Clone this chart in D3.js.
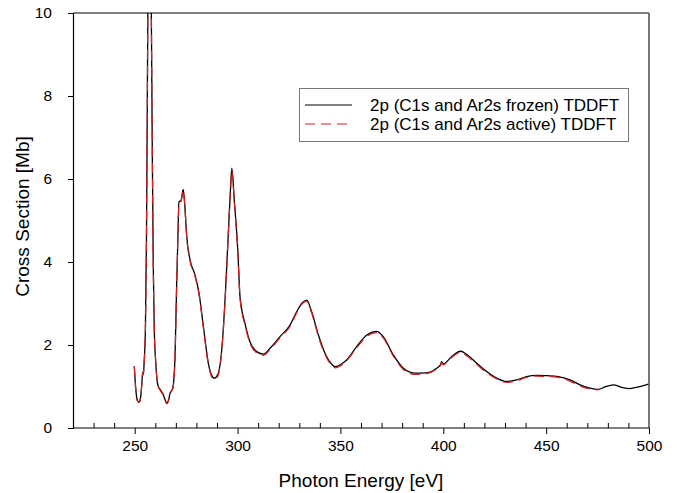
<!DOCTYPE html>
<html>
<head>
<meta charset="utf-8">
<script src="https://cdn.jsdelivr.net/npm/d3@7/dist/d3.min.js"></script>
<style>
  html, body { margin: 0; padding: 0; background: #fff; }
  svg { display: block; font-family: "Liberation Sans", Arial, sans-serif; }
</style>
</head>
<body>
<svg id="chart" width="677" height="493"></svg>
<script>
// ---- data ----
const seriesNames = ["2p (C1s and Ar2s frozen) TDDFT", "2p (C1s and Ar2s active) TDDFT"];
const xTickValues = [250, 300, 350, 400, 450, 500];
const yTickValues = [0, 2, 4, 6, 8, 10];

const frozenE = [249.8,250.5,251.2,252.1,252.9,253.5,253.9,254.2,254.6,255.2,255.7,256.2,256.7,257.1,257.5,258.0,258.5,259.0,259.5,260.2,261.0,261.5,262.5,263.9,265.0,265.6,266.3,267.2,268.5,269.2,269.6,270.4,271.0,271.5,272.5,273.6,274.3,275.3,276.9,279.3,281.3,283.4,285.8,287.3,288.7,290.3,292.3,293.9,295.5,296.5,297.2,298.4,300.1,301.2,303.6,306.0,309.3,312.5,315.8,320.6,325.5,328.7,331.5,333.6,336.0,339.3,342.5,345.5,347.4,351.0,353.0,357.9,362.8,367.6,370.8,375.7,380.6,386.3,392.0,396.8,398.6,399.2,400.0,400.8,404.1,408.5,411.4,416.3,421.1,426.0,430.8,435.7,440.5,445.4,450.3,455.9,461.6,466.5,471.3,475.4,478.6,482.7,486.7,490.8,494.8,499.7];
const frozenV = [1.49,0.95,0.68,0.62,0.75,1.10,1.35,1.28,1.60,2.40,4.50,8.50,12.5,14.0,13.0,10.5,7.0,4.0,2.4,1.6,1.1,1.0,0.92,0.80,0.65,0.60,0.65,0.84,0.96,1.30,1.72,3.49,4.60,5.45,5.48,5.75,5.40,4.61,4.05,3.69,3.24,2.44,1.56,1.28,1.20,1.28,1.88,3.08,4.69,5.70,6.26,5.49,4.29,3.16,2.52,2.08,1.84,1.78,1.92,2.20,2.48,2.80,3.02,3.08,2.80,2.24,1.80,1.55,1.48,1.56,1.64,1.96,2.24,2.33,2.20,1.76,1.44,1.32,1.33,1.44,1.52,1.60,1.54,1.56,1.72,1.85,1.77,1.56,1.36,1.20,1.12,1.16,1.24,1.27,1.26,1.24,1.16,1.04,0.96,0.93,0.99,1.04,0.98,0.95,0.99,1.06];

const activeE = [249.8,250.5,251.2,252.1,252.9,253.5,253.9,254.2,254.6,255.2,255.7,256.2,256.7,257.1,257.5,258.0,258.5,259.0,259.5,260.2,261.0,261.5,262.5,263.9,265.0,265.6,266.3,267.2,268.5,269.2,269.6,270.4,271.0,271.5,272.5,273.6,274.3,275.3,276.9,279.3,281.3,283.4,285.8,287.3,288.7,290.3,292.3,293.9,295.5,296.5,297.2,298.4,300.1,301.2,303.6,306.0,309.3,312.5,315.8,320.6,325.5,328.7,331.5,333.6,336.0,339.3,342.5,345.5,347.4,351.0,353.0,357.9,362.8,367.6,370.8,375.7,380.6,386.3,392.0,396.8,398.6,399.2,400.0,400.8,404.1,408.5,411.4,416.3,421.1,426.0,430.8,435.7,440.5,445.4,450.3,455.9,461.6,466.5,471.3,475.4];
const activeV = [1.49,0.93,0.66,0.61,0.74,1.08,1.33,1.30,1.58,2.38,4.50,8.50,12.5,14.0,13.0,10.5,7.0,4.0,2.4,1.6,1.1,0.99,0.90,0.78,0.63,0.58,0.63,0.82,0.95,1.28,1.70,3.45,4.58,5.42,5.46,5.72,5.38,4.58,4.02,3.66,3.20,2.40,1.53,1.24,1.16,1.24,1.85,3.05,4.66,5.68,6.20,5.46,4.26,3.12,2.48,2.05,1.81,1.75,1.89,2.17,2.45,2.77,3.00,3.05,2.77,2.20,1.77,1.52,1.45,1.53,1.62,1.93,2.21,2.30,2.17,1.73,1.41,1.29,1.31,1.42,1.50,1.57,1.52,1.54,1.70,1.82,1.74,1.53,1.33,1.18,1.10,1.14,1.22,1.25,1.24,1.22,1.13,1.01,0.94,0.92];

// ---- layout ----
const W = 677, H = 493;
const margin = { top: 13, right: 28, bottom: 65, left: 73 };
const iw = W - margin.left - margin.right;
const ih = H - margin.top - margin.bottom;

const svg = d3.select("#chart");
const g = svg.append("g").attr("transform", `translate(${margin.left},${margin.top})`);

const x = d3.scaleLinear().domain([220, 500]).range([0, iw]);
const y = d3.scaleLinear().domain([0, 10]).range([ih, 0]);

svg.append("defs").append("clipPath").attr("id", "clip")
  .append("rect").attr("x", 0).attr("y", 0).attr("width", iw).attr("height", ih);

// frame
g.append("line").attr("x1", 0).attr("x2", iw).attr("y1", 0).attr("y2", 0)
  .attr("stroke", "#000").attr("stroke-width", 1.2);
g.append("line").attr("x1", iw).attr("x2", iw).attr("y1", 0).attr("y2", ih)
  .attr("stroke", "#555").attr("stroke-width", 1.6);

// x axis: major outward ticks with labels, minor inward ticks
const xMinor = d3.range(230, 500, 10).filter(v => v % 50 !== 0);
g.append("g").attr("transform", `translate(0,${ih})`)
  .call(d3.axisBottom(x).tickValues(xMinor).tickSize(-5).tickFormat(""))
  .call(a => a.select(".domain").remove())
  .selectAll("line").attr("stroke", "#000");
const xAxis = g.append("g").attr("transform", `translate(0,${ih})`)
  .call(d3.axisBottom(x).tickValues(xTickValues).tickSizeOuter(0).tickSize(6).tickPadding(6));
xAxis.select(".domain").attr("d", `M0,0H${iw}`).attr("stroke", "#000").attr("stroke-width", 1.2);
xAxis.selectAll("text").attr("font-size", 15.5).attr("fill", "#000")
  .style("font-family", "'Liberation Sans', Arial, sans-serif");

// y axis
const yAxis = g.append("g")
  .call(d3.axisLeft(y).tickValues(yTickValues).tickSizeOuter(0).tickSize(5).tickPadding(16));
yAxis.select(".domain").attr("stroke", "#000").attr("stroke-width", 1.2);
yAxis.selectAll("text").attr("font-size", 15.5).attr("fill", "#000")
  .style("font-family", "'Liberation Sans', Arial, sans-serif");

// axis titles
svg.append("text").attr("x", margin.left + iw / 2).attr("y", 487)
  .attr("text-anchor", "middle").attr("font-size", 19).attr("fill", "#000")
  .text("Photon Energy [eV]");
svg.append("text").attr("transform", `translate(29,${margin.top + ih / 2 - 4}) rotate(-90)`)
  .attr("text-anchor", "middle").attr("font-size", 19).attr("fill", "#000")
  .text("Cross Section [Mb]");

// lines
const line = d3.line().x(d => x(d[0])).y(d => y(d[1])).curve(d3.curveMonotoneX);
const frozen = frozenE.map((e, i) => [e, frozenV[i]]);
const active = activeE.map((e, i) => [e, activeV[i]]);

const plot = g.append("g").attr("clip-path", "url(#clip)");
plot.append("path").datum(frozen).attr("d", line)
  .attr("fill", "none").attr("stroke", "#000").attr("stroke-width", 1.3);
plot.append("path").datum(active).attr("d", line)
  .attr("fill", "none").attr("stroke", "#d62020").attr("stroke-width", 1.2)
  .attr("stroke-dasharray", "10,6");

// legend
const lg = svg.append("g");
lg.append("rect").attr("x", 299.5).attr("y", 88.5).attr("width", 329).attr("height", 53)
  .attr("fill", "#fff").attr("stroke", "#777").attr("stroke-width", 1);
const legendItems = [
  { name: seriesNames[0], color: "#000", dash: null, yy: 105 },
  { name: seriesNames[1], color: "#d62020", dash: "10,6", yy: 124 }
];
legendItems.forEach(it => {
  lg.append("line").attr("x1", 305).attr("x2", 352).attr("y1", it.yy).attr("y2", it.yy)
    .attr("stroke", it.color).attr("stroke-width", 1.2)
    .attr("stroke-dasharray", it.dash);
  lg.append("text").attr("x", 370).attr("y", it.yy + 6).attr("font-size", 17).attr("fill", "#000")
    .text(it.name);
});
</script>
</body>
</html>
